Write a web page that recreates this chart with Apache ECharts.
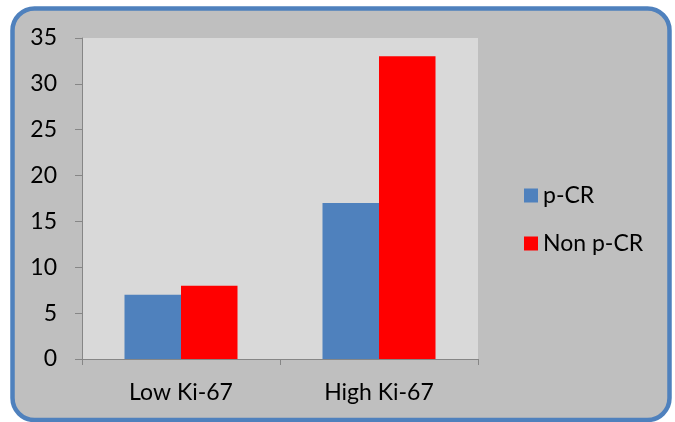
<!DOCTYPE html>
<html><head><meta charset="utf-8">
<script src="https://cdn.jsdelivr.net/npm/echarts@6/dist/echarts.min.js"></script>
<style>html,body{margin:0;padding:0;background:#fff}#c{width:675px;height:422px}</style>
</head><body><div id="c"></div>
<script>
const categories = ["Low Ki-67", "High Ki-67"];
const pCR = [7, 17];
const nonPCR = [8, 33];
const seriesNames = ["p-CR", "Non p-CR"];

const chart = echarts.init(document.getElementById('c'));
const font = 'Lato, "Open Sans", sans-serif';
chart.setOption({
  backgroundColor: '#ffffff',
  animation: false,
  graphic: [{
    type: 'rect', z: -10,
    shape: {x: 12.5, y: 8.5, width: 657, height: 411.5, r: 22},
    style: {fill: '#BFBFBF', stroke: '#4F81BD', lineWidth: 4.5}
  }],
  grid: {left: 82, right: 197, top: 38, bottom: 63, show: true, backgroundColor: '#D9D9D9', borderWidth: 0},
  legend: {
    orient: 'vertical', left: 519, top: 179,
    itemWidth: 14, itemHeight: 14, itemGap: 25,
    icon: 'rect',
    textStyle: {fontFamily: font, fontSize: 23, color: '#000', padding: [0,0,0,0]},
    data: seriesNames
  },
  xAxis: {
    type: 'category', data: categories,
    axisLine: {lineStyle: {color: '#868686', width: 1}},
    axisTick: {show: true, length: 6, lineStyle: {color: '#868686'}},
    axisLabel: {fontFamily: font, fontSize: 23, color: '#000', margin: 22}
  },
  yAxis: {
    type: 'value', min: 0, max: 35, interval: 5,
    splitLine: {show: false},
    axisLine: {show: true, lineStyle: {color: '#868686', width: 1}},
    axisTick: {show: true, length: 7, lineStyle: {color: '#868686'}},
    axisLabel: {fontFamily: font, fontSize: 23, color: '#000', margin: 25}
  },
  series: [
    {name: seriesNames[0], type: 'bar', data: pCR, itemStyle: {color: '#4F81BD'}, barWidth: 56.5, barGap: '0%'},
    {name: seriesNames[1], type: 'bar', data: nonPCR, itemStyle: {color: '#FF0000'}, barWidth: 56.5, barGap: '0%'}
  ]
});
</script></body></html>
